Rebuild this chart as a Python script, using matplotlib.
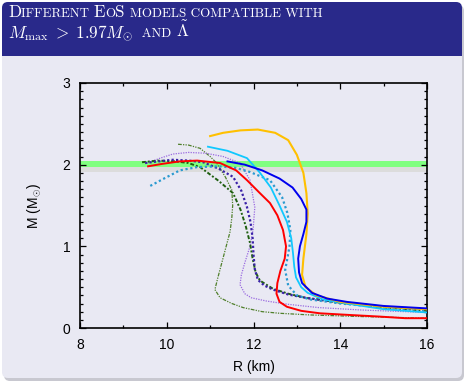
import numpy as np
import matplotlib
matplotlib.use("Agg")
import matplotlib.pyplot as plt
from matplotlib.patches import FancyBboxPatch, Rectangle
from matplotlib.offsetbox import TextArea, HPacker, AnnotationBbox
from matplotlib.ticker import MultipleLocator

plt.rcParams['mathtext.fontset'] = 'cm'

# ---- data (R in km, M in solar masses) ----
R_yellow = [11.0, 11.3, 11.7, 12.1, 12.5, 12.8, 13.0, 13.15, 13.22, 13.25, 13.22, 13.15, 13.12, 13.2, 13.45, 14.0, 15.0, 16.0]
M_yellow = [2.35, 2.39, 2.42, 2.43, 2.39, 2.30, 2.12, 1.90, 1.65, 1.40, 1.15, 0.85, 0.65, 0.50, 0.40, 0.32, 0.26, 0.23]

R_blue = [11.4, 11.8, 12.2, 12.6, 12.9, 13.1, 13.22, 13.22, 13.15, 13.07, 13.03, 13.05, 13.12, 13.35, 13.7, 14.15, 15.0, 16.0]
M_blue = [2.04, 2.00, 1.93, 1.83, 1.72, 1.58, 1.45, 1.30, 1.15, 1.00, 0.85, 0.68, 0.55, 0.43, 0.36, 0.32, 0.27, 0.24]

R_cyan = [10.95, 11.4, 11.85, 12.15, 12.4, 12.6, 12.77, 12.87, 12.91, 12.94, 12.98, 13.1, 13.25, 13.6, 14.15, 15.0, 16.0]
M_cyan = [2.22, 2.17, 2.08, 1.90, 1.72, 1.50, 1.30, 1.10, 0.92, 0.75, 0.62, 0.50, 0.43, 0.35, 0.30, 0.23, 0.19]

R_red = [9.57, 9.9, 10.3, 10.7, 11.23, 11.6, 11.85, 12.15, 12.38, 12.55, 12.68, 12.75, 12.72, 12.62, 12.55, 12.53, 12.6, 12.77, 13.1, 13.53, 14.2, 14.9, 15.5, 16.0]
M_red = [1.98, 2.01, 2.04, 2.05, 2.02, 1.93, 1.81, 1.65, 1.53, 1.38, 1.20, 1.00, 0.85, 0.70, 0.55, 0.42, 0.32, 0.26, 0.21, 0.18, 0.16, 0.14, 0.12, 0.12]

R_cyandot = [9.62, 9.9, 10.3, 10.7, 11.2, 11.6, 11.92, 12.38, 12.66, 12.78, 12.85, 12.83, 12.78, 12.73, 12.8, 13.0, 13.3, 14.0, 15.0, 16.0]
M_cyandot = [1.74, 1.82, 1.93, 1.97, 1.98, 1.96, 1.91, 1.81, 1.60, 1.41, 1.20, 1.00, 0.85, 0.71, 0.52, 0.40, 0.35, 0.30, 0.25, 0.22]

R_navy = [9.5, 9.8, 10.14, 10.5, 10.84, 11.2, 11.53, 11.72, 11.85, 11.93, 11.98, 12.0, 12.03, 12.1, 12.25, 12.45, 12.8, 13.2, 14.0, 15.0, 16.0]
M_navy = [2.02, 2.04, 2.06, 2.05, 2.03, 1.95, 1.85, 1.68, 1.48, 1.30, 1.10, 0.90, 0.72, 0.59, 0.52, 0.47, 0.41, 0.37, 0.31, 0.26, 0.23]

R_green = [9.43, 9.8, 10.2, 10.5, 10.77, 11.2, 11.53, 11.7, 11.82, 11.92, 11.98, 12.05, 12.15, 12.45, 12.8, 13.2, 14.0, 15.0, 16.0]
M_green = [2.03, 2.05, 2.04, 2.02, 1.97, 1.80, 1.65, 1.45, 1.25, 1.04, 0.85, 0.68, 0.58, 0.48, 0.42, 0.37, 0.31, 0.25, 0.21]

R_purple = [9.55, 9.85, 10.14, 10.5, 10.9, 11.3, 11.69, 11.92, 12.03, 11.99, 11.92, 11.8, 11.72, 11.69, 11.8, 11.95, 12.3, 12.8, 13.5, 14.5, 16.0]
M_purple = [2.02, 2.08, 2.13, 2.15, 2.14, 2.10, 2.02, 1.81, 1.48, 1.20, 1.00, 0.80, 0.65, 0.53, 0.42, 0.37, 0.33, 0.29, 0.25, 0.22, 0.19]

R_olive = [10.26, 10.5, 10.77, 11.0, 11.15, 11.35, 11.5, 11.52, 11.5, 11.46, 11.37, 11.27, 11.17, 11.11, 11.23, 11.5, 11.76, 12.2, 12.61, 13.3, 14.5, 16.0]
M_olive = [2.25, 2.24, 2.20, 2.10, 2.02, 1.85, 1.69, 1.50, 1.35, 1.18, 1.00, 0.80, 0.60, 0.47, 0.37, 0.30, 0.25, 0.20, 0.18, 0.16, 0.14, 0.12]

band_green = (1.97, 2.05)
band_gray = (1.91, 1.97)

W, H = 466, 384
fig = plt.figure(figsize=(W / 100, H / 100), dpi=100)
fig.patch.set_facecolor('white')

# ---- beamer block background ----
bg = fig.add_axes([0, 0, 1, 1], zorder=0)
bg.set_xlim(0, W)
bg.set_ylim(H, 0)
bg.axis('off')
head_col = '#29298a'
body_col = '#e9e9f3'
bg.add_patch(FancyBboxPatch((4, 5), 460, 376, boxstyle='round,pad=0,rounding_size=6',
                            fc='#c8c8d0', ec='none'))
bg.add_patch(FancyBboxPatch((2, 2), 460, 376, boxstyle='round,pad=0,rounding_size=6',
                            fc=body_col, ec='none'))
bg.add_patch(FancyBboxPatch((2, 2), 460, 54, boxstyle='round,pad=0,rounding_size=6',
                            fc=head_col, ec='none'))
bg.add_patch(Rectangle((2, 40), 460, 16, fc=head_col, ec='none'))


def smallcaps(text, big, small):
    parts = []
    buf, low = '', None
    for ch in text:
        is_low = ch.islower()
        if low is None or is_low == low or ch == ' ':
            buf += ch
            if low is None and ch != ' ':
                low = is_low
        else:
            parts.append((buf, low))
            buf, low = ch, is_low
    parts.append((buf, low))
    areas = []
    for s, lw in parts:
        size = small if lw else big
        areas.append(TextArea(s.upper(), textprops=dict(color='white', size=size, family='cmr10')))
    return areas


big, small = 12.3, 9.4
line1 = HPacker(children=smallcaps('Different EoS models compatible with', big, small),
                align='baseline', pad=0, sep=0)
line2 = HPacker(children=[TextArea(r'$M_{\rm max}\;>\;1.97M_{\odot}$',
                                   textprops=dict(color='white', size=big)),
                          TextArea('  AND ', textprops=dict(color='white', size=small, family='cmr10')),
                          TextArea(r'$\tilde{\Lambda}$', textprops=dict(color='white', size=big))],
                align='baseline', pad=0, sep=0)
for pk, y in [(line1, 20), (line2, 43)]:
    ab = AnnotationBbox(pk, (8, y), xycoords='data', box_alignment=(0, 0), frameon=False, pad=0)
    bg.add_artist(ab)

# ---- main plot ----
ax = fig.add_axes([80 / W, 1 - 328 / H, 347 / W, 245 / H], zorder=1)
ax.set_facecolor('none')
ax.axhspan(*band_gray, color='#dcdcdc', lw=0, zorder=1)
ax.axhspan(*band_green, color='#80ff80', lw=0, zorder=1)

ax.plot(R_olive, M_olive, color='#4f7f2a', lw=0.9, ls=(0, (3, 1, 1, 1, 1, 1)), zorder=3)
ax.plot(R_purple, M_purple, color='#9a6ae0', lw=0.9, ls=(0, (1, 1)), zorder=3)
ax.plot(R_green, M_green, color='#1f5f10', lw=1.4, ls=(0, (2, 1, 1, 1)), zorder=3)
ax.plot(R_navy, M_navy, color='#3a22a8', lw=1.6, ls=(0, (1, 1)), zorder=3)
ax.plot(R_cyandot, M_cyandot, color='#2a9ad0', lw=1.6, ls=(0, (1, 1.2)), zorder=3)
ax.plot(R_red, M_red, color='#ff0000', lw=1.4, zorder=4)
ax.plot(R_cyan, M_cyan, color='#10c8ff', lw=1.3, zorder=4)
ax.plot(R_yellow, M_yellow, color='#ffc000', lw=1.5, zorder=4)
ax.plot(R_blue, M_blue, color='#0000ee', lw=1.4, zorder=5)

ax.set_xlim(8, 16)
ax.set_ylim(0, 3)
ax.xaxis.set_major_locator(MultipleLocator(2))
ax.xaxis.set_minor_locator(MultipleLocator(1))
ax.yaxis.set_major_locator(MultipleLocator(1))
ax.yaxis.set_minor_locator(MultipleLocator(0.1))
ax.tick_params(which='both', direction='in', top=True, right=True, labelsize=10, width=0.9)
ax.tick_params(which='major', length=4, pad=7)
ax.tick_params(which='minor', length=2)
for sp in ax.spines.values():
    sp.set_linewidth(1.2)
lbl_font = 'Liberation Sans'
for t in ax.get_xticklabels() + ax.get_yticklabels():
    t.set_family(lbl_font)
ax.set_xlabel('R (km)', fontsize=10, family=lbl_font, labelpad=6)
ax.set_ylabel(r'M (M$_{\odot}$)', fontsize=10, family=lbl_font, labelpad=14)

fig.savefig('out.png', dpi=100, facecolor='white')
